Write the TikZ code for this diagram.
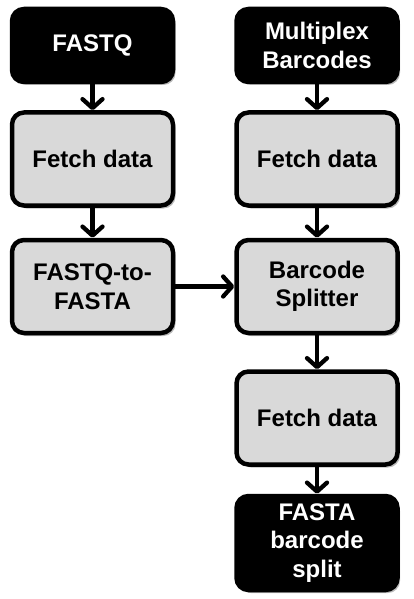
\documentclass[tikz,border=0pt]{standalone}
\usepackage{fontspec}
\setmainfont{Liberation Sans}
\usepackage{tikz}
\usetikzlibrary{arrows.meta, positioning, shadows}
\definecolor{step_fill}{HTML}{D9D9D9}

\begin{document}
\begin{tikzpicture}[
	x = 1pt, y = 1pt,
	iovertex/.style = {draw=black, fill=black, text=white, rounded corners=12pt, line width=4.5pt, minimum width=161pt, align=center,
		drop shadow={shadow xshift=2.5pt, shadow yshift=-3pt, fill=black!60, opacity=.45}},
	stepvertex/.style = {draw=black, fill=step_fill, rounded corners=12pt, line width=4.5pt, minimum width=161pt, minimum height=93pt, align=center,
		drop shadow={shadow xshift=2.5pt, shadow yshift=-3pt, fill=black!60, opacity=.45}},
	flow/.style = {line width=4.3pt, -{Straight Barb[length=9pt, width=20pt, line cap=round, line join=round]}},
]
\tikzstyle{every node}=[font=\fontsize{24}{28.5}\selectfont\bfseries]
\useasboundingbox (0,0) rectangle (414,-599);

% Define vertices
\node[iovertex, minimum height=73pt] (fastq) at (92.5,-45.5) {FASTQ};
\node[stepvertex, below=26pt of fastq] (fetchA) {Fetch data};
\node[stepvertex, below=30pt of fetchA] (toFasta) {FASTQ-to-\\FASTA};
\node[iovertex, minimum height=73pt] (barcodes) at (317,-45.5) {Multiplex\\Barcodes};
\node[stepvertex, below=26pt of barcodes] (fetchB) {Fetch data};
\node[stepvertex, below=30pt of fetchB] (splitter) {Barcode\\Splitter};
\node[stepvertex, below=34pt of splitter] (fetchC) {Fetch data};
\node[iovertex, minimum height=94pt, below=27pt of fetchC] (result) {FASTA\\barcode\\split};

% Draw edges
\path[flow] (fastq) edge (fetchA);
\path[flow] (fetchA) edge (toFasta);
\path[flow] (barcodes) edge (fetchB);
\path[flow] (fetchB) edge (splitter);
\path[flow] (toFasta) edge (splitter);
\path[flow] (splitter) edge (fetchC);
\path[flow] (fetchC) edge (result);
\end{tikzpicture}
\end{document}
